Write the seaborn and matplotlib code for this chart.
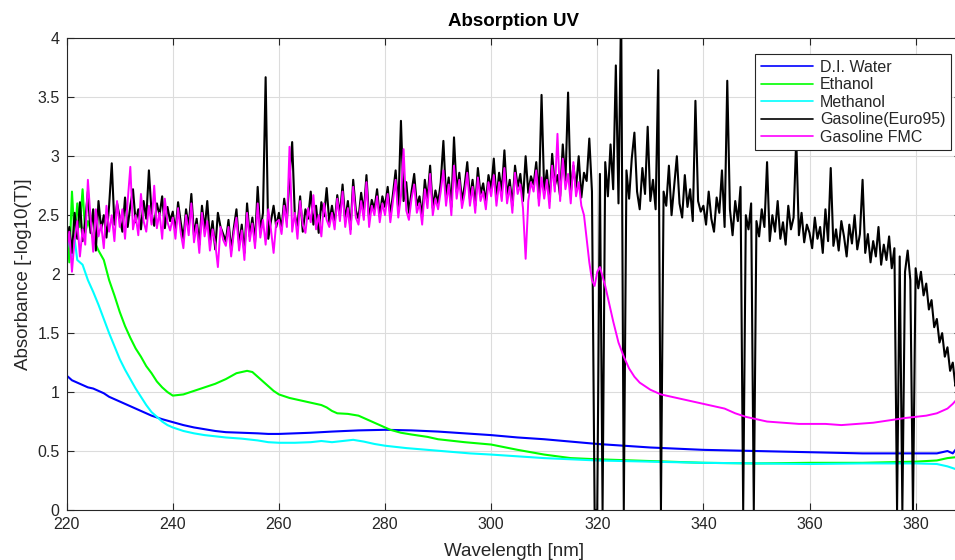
import numpy as np
import pandas as pd
import seaborn as sns
from matplotlib import pyplot as plt
from matplotlib.ticker import FuncFormatter, MultipleLocator

# ---- data ----
water_wl = [220, 221, 222, 223, 224, 225, 226, 227, 228, 230, 232, 234, 236, 238, 240, 242, 244, 246, 248,
            250, 253, 256, 258, 260, 263, 266, 270, 275, 280, 285, 290, 295, 300, 305, 310, 315, 320, 325,
            330, 335, 340, 345, 350, 360, 370, 380, 384, 386, 387, 388]
water_abs = [1.14, 1.10, 1.08, 1.06, 1.04, 1.03, 1.01, 0.99, 0.96, 0.92, 0.88, 0.84, 0.80, 0.77, 0.745, 0.72,
             0.70, 0.685, 0.67, 0.66, 0.655, 0.65, 0.645, 0.645, 0.65, 0.655, 0.665, 0.675, 0.68, 0.675, 0.665,
             0.65, 0.635, 0.615, 0.60, 0.58, 0.56, 0.545, 0.53, 0.52, 0.51, 0.505, 0.50, 0.49, 0.48, 0.48,
             0.48, 0.50, 0.48, 0.54]

ethanol_wl = [220, 220.5, 221, 221.5, 222, 222.5, 223, 223.5, 224, 225, 226, 227, 228, 229, 230, 231, 232,
              233, 234, 235, 236, 237, 238, 239, 240, 242, 244, 246, 248, 250, 252, 253, 254, 255, 256, 257,
              258, 259, 260, 262, 264, 266, 268, 269, 270, 271, 273, 275, 277, 279, 281, 283, 285, 288, 290,
              295, 300, 305, 310, 315, 320, 330, 340, 350, 360, 370, 380, 384, 386, 388]
ethanol_abs = [2.45, 2.10, 2.70, 2.30, 2.60, 2.40, 2.72, 2.35, 2.45, 2.30, 2.20, 2.12, 1.95, 1.82, 1.68,
               1.56, 1.46, 1.37, 1.30, 1.22, 1.16, 1.09, 1.04, 1.00, 0.97, 0.98, 1.01, 1.04, 1.07, 1.11, 1.16,
               1.17, 1.18, 1.17, 1.13, 1.09, 1.05, 1.01, 0.98, 0.95, 0.93, 0.91, 0.89, 0.87, 0.84, 0.82, 0.815,
               0.80, 0.76, 0.72, 0.68, 0.655, 0.64, 0.62, 0.60, 0.575, 0.555, 0.51, 0.47, 0.44, 0.43, 0.415,
               0.40, 0.395, 0.40, 0.40, 0.41, 0.42, 0.44, 0.45]

methanol_wl = [220, 220.5, 221, 221.5, 222, 223, 224, 225, 226, 227, 228, 229, 230, 231, 232, 233, 234, 235,
               236, 237, 238, 239, 240, 242, 244, 246, 248, 250, 253, 256, 258, 260, 263, 266, 268, 270, 272,
               274, 276, 278, 280, 284, 288, 292, 296, 300, 305, 310, 315, 320, 330, 340, 350, 360, 370, 380,
               384, 386, 388]
methanol_abs = [2.20, 2.35, 2.15, 2.30, 2.12, 2.08, 1.95, 1.85, 1.74, 1.62, 1.50, 1.39, 1.28, 1.19, 1.11,
                1.03, 0.96, 0.89, 0.83, 0.79, 0.75, 0.72, 0.70, 0.67, 0.65, 0.635, 0.625, 0.615, 0.605, 0.59,
                0.575, 0.57, 0.57, 0.575, 0.585, 0.575, 0.585, 0.595, 0.58, 0.56, 0.545, 0.525, 0.51, 0.495,
                0.48, 0.47, 0.455, 0.44, 0.43, 0.42, 0.41, 0.40, 0.395, 0.39, 0.395, 0.395, 0.39, 0.37, 0.34]

# Gasoline (Euro95), every 0.5 nm from 220 to 388
euro95_wl = np.arange(220, 388.01, 0.5)
euro95_abs = [
    2.25, 2.40, 2.18, 2.52, 2.30, 2.61, 2.28, 2.45, 2.70, 2.35, 2.55, 2.20, 2.62, 2.38, 2.50, 2.31, 2.58, 2.94, 2.42, 2.60,
    2.48, 2.36, 2.65, 2.40, 2.58, 2.72, 2.44, 2.55, 2.38, 2.62, 2.47, 2.88, 2.52, 2.41, 2.60, 2.50, 2.66, 2.39, 2.57, 2.45,
    2.53, 2.36, 2.61, 2.44, 2.30, 2.55, 2.40, 2.68, 2.33, 2.47, 2.25, 2.58, 2.38, 2.62, 2.29, 2.45, 2.21, 2.52, 2.40, 2.34,
    2.28, 2.46, 2.20, 2.39, 2.55, 2.25, 2.42, 2.18, 2.60, 2.32, 2.48, 2.27, 2.74, 2.36, 2.52, 3.67, 2.30, 2.45, 2.58, 2.40,
    2.52, 2.38, 2.64, 2.45, 2.82, 3.12, 2.50, 2.41, 2.66, 2.36, 2.55, 2.47, 2.70, 2.42, 2.58, 2.35, 2.61, 2.49, 2.73, 2.44,
    2.58, 2.43, 2.67, 2.50, 2.76, 2.45, 2.62, 2.38, 2.80, 2.54, 2.47, 2.69, 2.52, 2.84, 2.46, 2.63, 2.55, 2.72, 2.49, 2.66,
    2.57, 2.74, 2.50, 2.68, 2.88, 2.55, 3.30, 2.62, 2.78, 2.52, 2.70, 2.85, 2.58, 2.66, 2.49, 2.80, 2.63, 2.92, 2.56, 2.71,
    2.60, 2.78, 3.13, 2.65, 2.82, 2.57, 3.16, 2.70, 2.86, 2.62, 2.75, 2.95, 2.64, 2.80, 2.58, 2.90, 2.68, 2.77, 2.61, 2.84,
    2.72, 2.98, 2.63, 2.86, 2.70, 3.05, 2.66, 2.80, 2.58, 2.92, 2.74, 2.85, 2.62, 3.00, 2.69, 2.83, 2.76, 2.95, 2.64, 3.52,
    2.70, 2.88, 2.62, 3.02, 2.75, 2.84, 2.66, 3.10, 2.78, 3.54, 2.68, 2.92, 2.73, 3.00, 2.65, 2.86, 2.79, 3.15, 2.70, 0.00,
    0.00, 2.85, 0.00, 2.95, 2.66, 3.10, 2.72, 3.77, 2.60, 4.30, 0.00, 2.88, 2.64, 2.98, 3.20, 2.70, 2.55, 2.90, 2.68, 3.25,
    2.62, 2.80, 2.55, 3.73, 0.00, 2.70, 2.58, 2.92, 2.50, 2.75, 3.00, 2.60, 2.48, 2.84, 2.57, 2.72, 2.45, 3.47, 2.62, 2.53,
    2.58, 2.42, 2.70, 2.47, 2.36, 2.65, 2.52, 2.88, 2.40, 3.64, 2.55, 2.33, 2.62, 2.45, 2.74, 0.00, 2.50, 2.38, 2.60, 0.00,
    2.45, 2.32, 2.55, 2.40, 2.95, 2.28, 2.50, 2.36, 2.62, 2.30, 2.44, 2.25, 2.58, 2.38, 2.48, 3.15, 2.33, 2.52, 2.27, 2.42,
    2.35, 2.22, 2.48, 2.30, 2.40, 2.18, 2.55, 2.28, 2.90, 2.24, 2.38, 2.20, 2.45, 2.32, 2.15, 2.42, 2.26, 2.50, 2.21, 2.34,
    2.80, 2.18, 2.34, 2.10, 2.28, 2.15, 2.40, 2.08, 2.25, 2.12, 2.32, 2.05, 2.22, 0.00, 2.15, 0.00, 2.02, 2.20, 1.95, 0.00,
    2.05, 1.88, 2.02, 1.82, 1.92, 1.70, 1.78, 1.55, 1.62, 1.42, 1.50, 1.30, 1.38, 1.18, 1.25, 1.05, 1.12,
]

# Gasoline FMC: noisy part every 0.5 nm from 220 to 317.5, then the smooth tail
fmc_noisy_wl = np.arange(220, 317.51, 0.5)
fmc_noisy_abs = [
    2.20, 2.36, 2.02, 2.30, 2.45, 2.15, 2.38, 2.25, 2.80, 2.48, 2.19, 2.55, 2.32, 2.42, 2.22, 2.58, 2.36, 2.50, 2.28, 2.62,
    2.40, 2.55, 2.30, 2.62, 2.91, 2.38, 2.50, 2.33, 2.68, 2.45, 2.36, 2.58, 2.42, 2.75, 2.39, 2.52, 2.30, 2.64, 2.44, 2.37,
    2.48, 2.30, 2.56, 2.35, 2.22, 2.50, 2.33, 2.60, 2.27, 2.42, 2.18, 2.52, 2.32, 2.45, 2.20, 2.38, 2.26, 2.06, 2.40, 2.29,
    2.24, 2.40, 2.15, 2.35, 2.48, 2.20, 2.37, 2.12, 2.52, 2.28, 2.43, 2.22, 2.60, 2.31, 2.46, 2.25, 2.55, 2.38, 2.18, 2.44,
    2.46, 2.34, 2.58, 2.40, 3.08, 2.36, 2.52, 2.30, 2.62, 2.42, 2.35, 2.56, 2.44, 2.67, 2.38, 2.50, 2.32, 2.60, 2.46, 2.40,
    2.52, 2.38, 2.64, 2.45, 2.70, 2.40, 2.56, 2.34, 2.74, 2.48, 2.42, 2.62, 2.46, 2.78, 2.40, 2.58, 2.50, 2.66, 2.44, 2.60,
    2.50, 2.68, 2.44, 2.62, 2.80, 2.48, 2.66, 3.06, 2.54, 2.46, 2.64, 2.76, 2.52, 2.60, 2.42, 2.72, 2.56, 2.85, 2.50, 2.64,
    2.55, 2.70, 2.88, 2.58, 2.76, 2.50, 2.92, 2.64, 2.80, 2.56, 2.68, 2.86, 2.58, 2.74, 2.52, 2.82, 2.62, 2.70, 2.55, 2.78,
    2.66, 2.84, 2.58, 2.78, 2.62, 2.90, 2.60, 2.74, 2.52, 2.86, 2.68, 2.76, 2.56, 2.13, 2.62, 2.78, 2.70, 2.88, 2.58, 2.82,
    2.64, 2.80, 2.56, 2.92, 2.70, 3.19, 2.62, 2.98, 2.72, 2.85, 2.60, 2.95, 2.66, 2.78, 2.58, 2.50,
]
fmc_tail_wl = [318, 318.5, 319, 319.5, 320, 320.5, 321, 321.5, 322, 323, 324, 325, 326, 327, 328, 329, 330, 332,
               334, 336, 338, 340, 342, 344, 346, 348, 350, 352, 355, 358, 360, 363, 366, 369, 372, 375, 378,
               380, 382, 384, 385, 386, 387, 388]
fmc_tail_abs = [2.30, 2.10, 1.95, 1.90, 2.02, 2.06, 1.98, 1.90, 1.80, 1.60, 1.42, 1.30, 1.20, 1.13, 1.08, 1.05,
                1.02, 0.98, 0.96, 0.94, 0.92, 0.90, 0.88, 0.86, 0.82, 0.79, 0.77, 0.75, 0.74, 0.73, 0.73, 0.73,
                0.72, 0.73, 0.74, 0.76, 0.78, 0.79, 0.80, 0.82, 0.84, 0.86, 0.90, 0.95]

series = [
    ("D.I. Water", water_wl, water_abs, "#0000ff", 1.5),
    ("Ethanol", ethanol_wl, ethanol_abs, "#00ff00", 1.5),
    ("Methanol", methanol_wl, methanol_abs, "#00ffff", 1.5),
    ("Gasoline(Euro95)", euro95_wl, euro95_abs, "#000000", 1.5),
    ("Gasoline FMC", list(fmc_noisy_wl) + fmc_tail_wl, fmc_noisy_abs + fmc_tail_abs, "#ff00ff", 1.4),
]

sns.set_theme(style="ticks")
plt.rcParams['font.family'] = ['Liberation Sans', 'DejaVu Sans']

fig = plt.figure(figsize=(9.55, 5.6), dpi=100)
ax = fig.add_axes([0.0698, 0.0893, 0.9362, 0.8423])

for name, wl, ab, col, lw in series:
    df = pd.DataFrame({"wl": wl, "abs": ab})
    sns.lineplot(data=df, x="wl", y="abs", ax=ax, color=col, label=name,
                 estimator=None, sort=False, linewidth=lw)

ax.set_xlim(220, 388.5)
ax.set_ylim(0, 4)
ax.xaxis.set_major_locator(MultipleLocator(20))
ax.yaxis.set_major_locator(MultipleLocator(0.5))
ax.yaxis.set_major_formatter(FuncFormatter(lambda v, p: "%g" % v))
ax.grid(True, color="#dcdcdc", linewidth=0.8)
ax.set_axisbelow(True)
ax.tick_params(direction="in", top=True, right=True, length=5, width=0.8,
               labelsize=11.5, colors="#262626", pad=5)
for s in ax.spines.values():
    s.set_color("#262626")
    s.set_linewidth(0.8)

ax.set_title("Absorption UV", fontsize=13.5, fontweight="bold", color="black", pad=9)
ax.set_xlabel("Wavelength [nm]", fontsize=13.5, color="#262626", labelpad=8)
ax.set_ylabel("Absorbance [-log10(T)]", fontsize=13.5, color="#262626", labelpad=4)

leg = ax.legend(loc="upper left", bbox_to_anchor=(0.770, 0.966), fontsize=11.5,
                labelspacing=0.15, handlelength=3.3, handletextpad=0.4, borderpad=0.35,
                fancybox=False, framealpha=1, edgecolor="#262626", borderaxespad=0)
leg.get_frame().set_linewidth(0.8)
for line in leg.get_lines():
    line.set_linewidth(1.2)

fig.savefig("out.png", dpi=100)
